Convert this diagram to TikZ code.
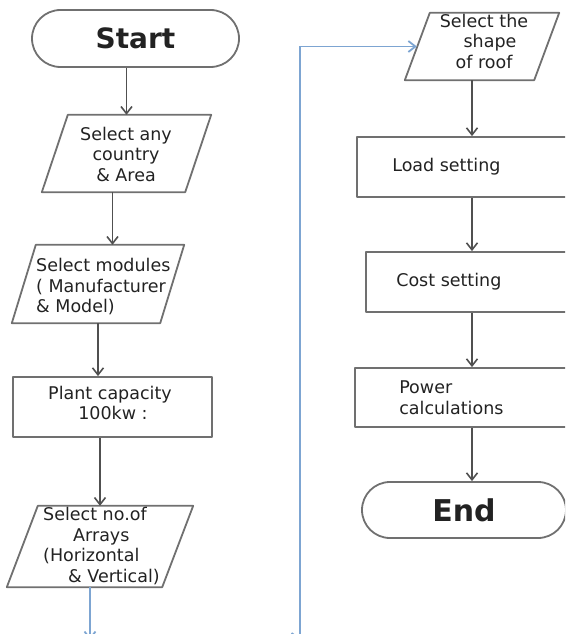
\documentclass[tikz,border=0pt]{standalone}
\usepackage{fontspec}
\setmainfont{DejaVu Sans}
\usetikzlibrary{arrows.meta, shapes.misc}

\definecolor{edgegray}{RGB}{112,112,112}
\definecolor{inkgray}{RGB}{80,80,80}
\definecolor{linkblue}{RGB}{125,165,210}
\definecolor{textdark}{RGB}{34,34,34}

\tikzset{
  frame/.style={rectangle, inner sep=0pt},
  box/.style={draw=edgegray, line width=1.8pt, line join=round},
  term/.style={rounded rectangle, draw=edgegray, line width=1.8pt, inner sep=0pt,
    text=textdark},
  txt/.style={inner sep=0pt, align=center, text=textdark,
    font=\fontsize{17.5}{20.5}\selectfont},
  arr/.style={draw=inkgray, line width=1.6pt, -{Straight Barb[length=7pt,width=11pt]}},
  flow/.style={draw=linkblue, line width=1.8pt, -{Straight Barb[length=7pt,width=11pt]}}
}

% параллелограмм по рамке узла
\newcommand{\paraline}[2]{\draw[box] ([xshift=#2]#1.north west) -- (#1.north east)
  -- ([xshift=-#2]#1.south east) -- (#1.south west) -- cycle;}

\begin{document}
\begin{tikzpicture}[x=1pt, y=-1pt]
  \useasboundingbox (0,0) rectangle (565,634);
  \clip (0,0) rectangle (565,634);

  % Левая колонка
  \node[term, minimum width=207pt, minimum height=57pt,
    font=\bfseries\fontsize{28}{30}\selectfont] (start) at (135.5,38.5) {Start};

  \node[frame, minimum width=169pt, minimum height=77pt] (country) at (126.5,153.5) {};
  \paraline{country}{26pt}
  \node[txt] (countryT) at (126,154) {Select any\\country\\\& Area};

  \node[frame, minimum width=172pt, minimum height=78pt] (modules) at (98,284) {};
  \paraline{modules}{24pt}
  \node[txt, align=left, anchor=west] (modulesT) at (36,287)
    {Select modules\\( Manufacturer\\\& Model)};

  \node[frame, box, draw, minimum width=199pt, minimum height=60pt] (plant) at (112.5,407) {};
  \node[txt] (plantT) at (110,403) {Plant capacity\\\hspace*{6pt}100kw :};

  \node[frame, minimum width=186pt, minimum height=81pt] (arrays) at (100,546.5) {};
  \paraline{arrays}{31pt}
  \node[txt, align=left, anchor=west] (arraysT) at (43,546)
    {Select no.of\\\hspace*{30pt}Arrays\\(Horizontal\\\hspace*{25pt}\& Vertical)};

  % Правая колонка
  \node[frame, minimum width=154pt, minimum height=67pt] (roof) at (482,46.5) {};
  \paraline{roof}{25pt}
  \node[txt] (roofT) at (484,41) {Select the\\\hspace*{12pt}shape\\of roof};

  \node[frame, box, draw, minimum width=223pt, minimum height=60pt] (load) at (468.5,167) {};
  \node[txt, anchor=west] (loadT) at ([xshift=36pt]load.west) {Load setting};

  \node[frame, box, draw, minimum width=214pt, minimum height=60pt] (cost) at (473,282) {};
  \node[txt, anchor=west] (costT) at ([xshift=31pt]cost.west) {Cost setting};

  \node[frame, box, draw, minimum width=225pt, minimum height=59pt] (power) at (467.5,397.5) {};
  \node[txt, align=left, anchor=west] (powerT) at ([xshift=45pt]power.west)
    {Power\\calculations};

  \node[term, minimum width=204pt, minimum height=56pt,
    font=\bfseries\fontsize{30}{32}\selectfont] (end) at (464,510) {End};

  % Стрелки
  \coordinate (axis) at (472,0);
  \draw[arr] (start.south -| country) -- (country.north);
  \draw[arr] ([xshift=-14pt]country.south) -- ([xshift=-14pt]country.south |- modules.north);
  \draw[arr] (modules.south) -- (modules.south |- plant.north);
  \draw[arr] (arrays.north |- plant.south) -- (arrays.north);
  \draw[arr] (roof.south -| axis) -- (load.north -| axis);
  \draw[arr] (load.south -| axis) -- (cost.north -| axis);
  \draw[arr] (cost.south -| axis) -- (power.north -| axis);
  \draw[arr] (power.south -| axis) -- (end.north -| axis);

  % Переход между колонками
  \coordinate (exit) at (90,640);
  \coordinate (rise) at (300,660);
  \coordinate (turn) at (250,638.5);
  \draw[flow] ([xshift=-10pt]arrays.south) -- (exit);
  \draw[flow] (turn) -- (turn -| rise);
  \draw[flow] (rise) |- ([xshift=12pt]roof.west);
\end{tikzpicture}
\end{document}
